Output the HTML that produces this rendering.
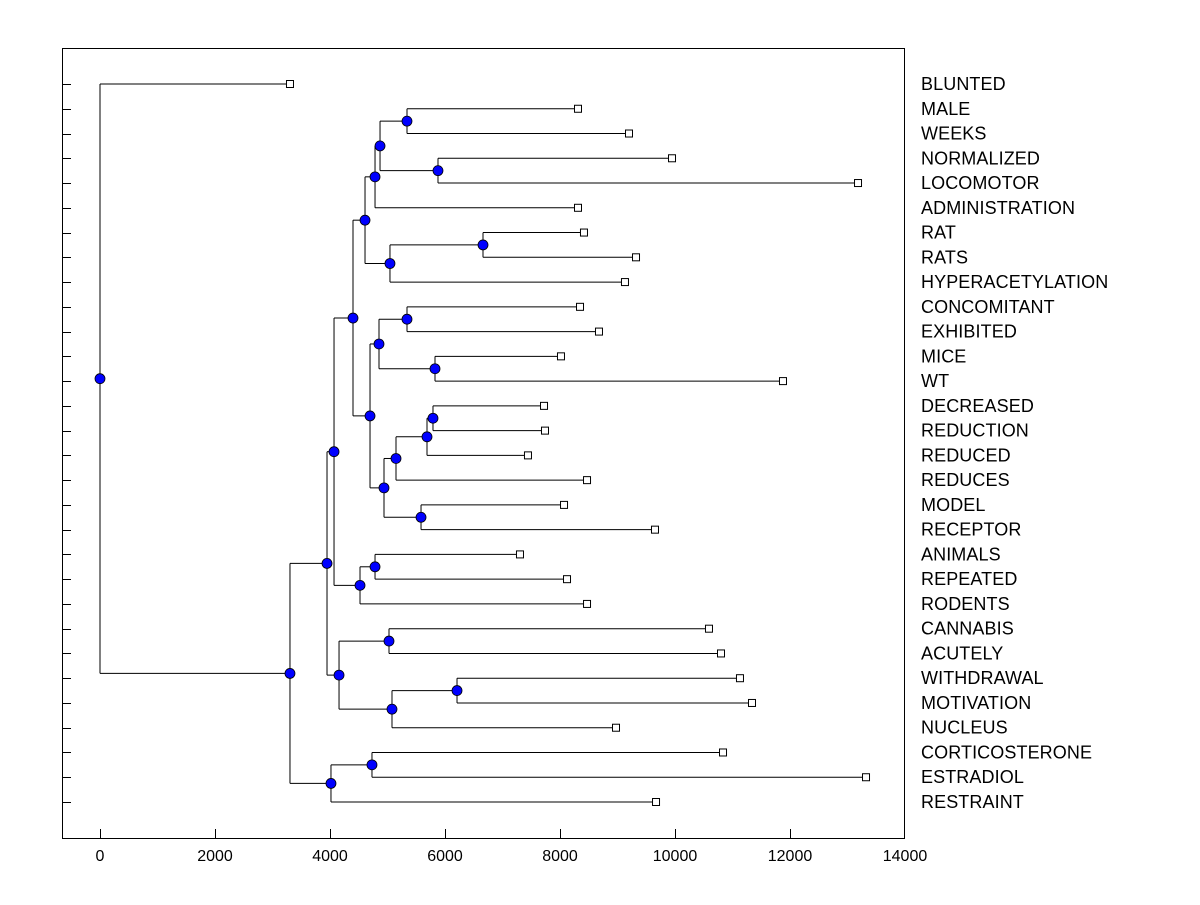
<!DOCTYPE html>
<html><head><meta charset="utf-8"><style>
body{margin:0;background:#fff;}
svg text{font-family:"Liberation Sans",Arial,sans-serif;font-size:16px;fill:#000;}
svg text.leaf{font-size:18px;letter-spacing:0.1px;}
</style></head><body>
<svg id="chart" width="1200" height="900"></svg>
<script>
const labels=["BLUNTED","MALE","WEEKS","NORMALIZED","LOCOMOTOR","ADMINISTRATION","RAT","RATS","HYPERACETYLATION","CONCOMITANT","EXHIBITED","MICE","WT","DECREASED","REDUCTION","REDUCED","REDUCES","MODEL","RECEPTOR","ANIMALS","REPEATED","RODENTS","CANNABIS","ACUTELY","WITHDRAWAL","MOTIVATION","NUCLEUS","CORTICOSTERONE","ESTRADIOL","RESTRAINT"];
const leafValues=[3304,8313,9200,9948,13183,8313,8417,9322,9130,8348,8678,8017,11878,7722,7739,7443,8470,8070,9652,7304,8122,8470,10591,10800,11130,11339,8974,10835,13322,9670];
const nodeNames=["R","S","Q","O","T","P","M","W","X","U","AB","AA","Y","Z","V","N","J","L","K","E","G","I","H","F","B","D","C","A","root"];
const nodeValues=[5339,5878,4870,4783,6661,5043,4609,5339,5826,4852,5791,5687,5148,5583,4939,4696,4400,4783,4522,4070,5026,6209,5078,4157,3948,4730,4017,3304,0];
const nodeChildren=[["MALE","WEEKS"],["NORMALIZED","LOCOMOTOR"],["R","S"],["Q","ADMINISTRATION"],["RAT","RATS"],["T","HYPERACETYLATION"],["O","P"],["CONCOMITANT","EXHIBITED"],["MICE","WT"],["W","X"],["DECREASED","REDUCTION"],["AB","REDUCED"],["AA","REDUCES"],["MODEL","RECEPTOR"],["Y","Z"],["U","V"],["M","N"],["ANIMALS","REPEATED"],["L","RODENTS"],["J","K"],["CANNABIS","ACUTELY"],["WITHDRAWAL","MOTIVATION"],["I","NUCLEUS"],["G","H"],["E","F"],["CORTICOSTERONE","ESTRADIOL"],["D","RESTRAINT"],["B","C"],["BLUNTED","A"]];
const xTicks=[0,2000,4000,6000,8000,10000,12000,14000];

const svg=document.getElementById('chart');
const NS='http://www.w3.org/2000/svg';
const L=62,R=904,T=48,B=838;
const xs=v=>100+v*0.0575;
const ys=i=>84+i*(802-84)/29;
function mk(tag,attrs){const e=document.createElementNS(NS,tag);for(const k in attrs)e.setAttribute(k,attrs[k]);svg.appendChild(e);return e;}
const frame=mk('rect',{x:L+0.5,y:T+0.5,width:R-L,height:B-T,fill:'none',stroke:'#000'});


xTicks.forEach(t=>{
  const x=Math.min(Math.round(xs(t)),R)+0.5;
  const tk=mk('line',{x1:x,x2:x,y1:B,y2:B-9,stroke:'#000'});
  
  
  const tx=mk('text',{x:xs(t),y:861,'text-anchor':'middle'});tx.textContent=t;
  
  
});
const pos={};
labels.forEach((l,i)=>{pos[l]={x:xs(leafValues[i]),y:ys(i)};});
nodeNames.forEach((n,i)=>{
  const [a,b]=nodeChildren[i];
  pos[n]={x:xs(nodeValues[i]),y:(pos[a].y+pos[b].y)/2};
});
nodeNames.forEach((n,i)=>{
  const p=pos[n];
  const [a,b]=nodeChildren[i];
  const v=mk('line',{x1:p.x,x2:p.x,y1:pos[a].y,y2:pos[b].y,stroke:'#000'});
  
  
  [a,b].forEach(c=>{
    const h=mk('line',{x1:p.x,x2:pos[c].x,y1:pos[c].y,y2:pos[c].y,stroke:'#000'});
    
    
  });
});
labels.forEach((l,i)=>{
  const y=Math.round(ys(i))+0.5;
  const tk=mk('line',{x1:L,x2:L+9,y1:y,y2:y,stroke:'#000'});
  
  
  const p=pos[l];
  const sq=mk('rect',{x:p.x-3.5,y:p.y-3.5,width:7,height:7,fill:'#fff',stroke:'#000'});
  
  
  const tx=mk('text',{x:921,y:ys(i)+6,'class':'leaf'});tx.textContent=l;
  
  
});
nodeNames.forEach(n=>{
  const p=pos[n];
  const c=mk('circle',{cx:p.x,cy:p.y,r:5,fill:'#0000ff',stroke:'#000','stroke-width':0.8});
  
  
});
</script>
</body></html>
